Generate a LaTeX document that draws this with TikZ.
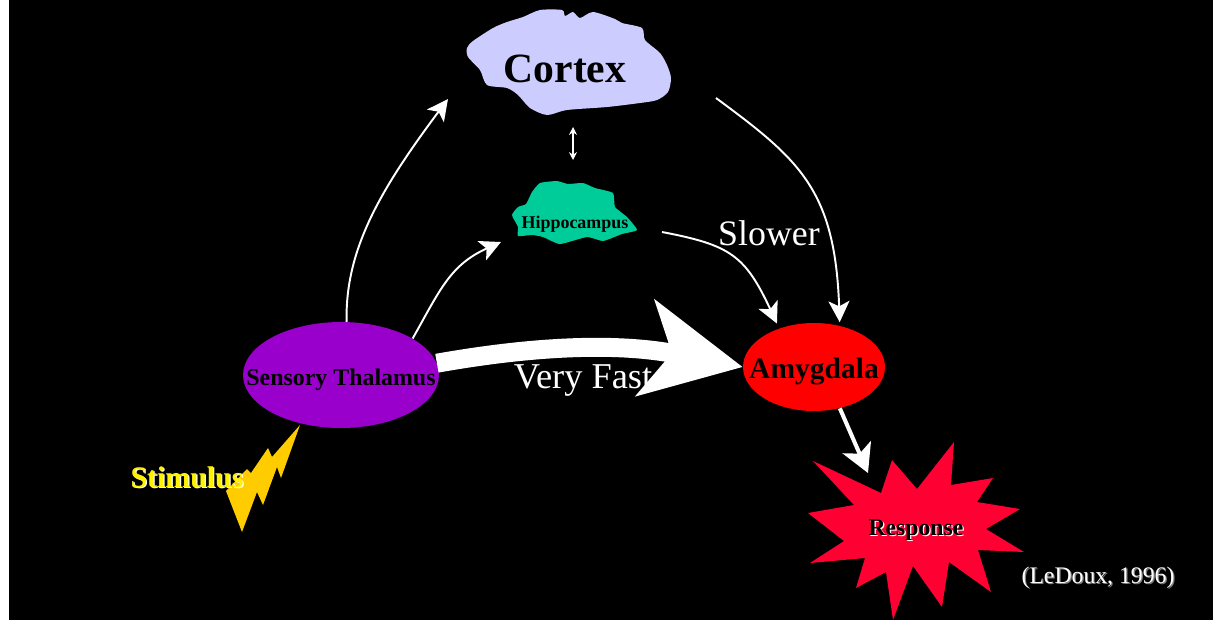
\documentclass[tikz,border=0pt]{standalone}
\usepackage{tikz}
\usepackage{fontspec}
\usetikzlibrary{arrows.meta,shapes.geometric}
\setmainfont{Liberation Serif}

\definecolor{cortexblue}{HTML}{CCCCFF}
\definecolor{hippogreen}{HTML}{00CC99}
\definecolor{thalamuspurple}{HTML}{9900CC}
\definecolor{responsered}{HTML}{FF0033}
\definecolor{boltyellow}{HTML}{FFCC00}

\newcommand{\shadowed}[2]{\rlap{\kern.7pt\raisebox{-.7pt}{\color{#1}#2}}#2}
\newcommand{\organtext}[2]{\raisebox{#1}[0pt][0pt]{\makebox[0pt]{#2}}}

\tikzset{
	thinarrow/.style={draw=white,line width=1.1pt,-{Stealth[white,length=12pt,width=12pt,inset=3pt]}},
	fastarrow/.style={draw=white,line width=10.8pt,-{Stealth[white,length=56pt,width=55pt,inset=15pt]}},
	outarrow/.style={draw=white,line width=2.3pt,-{Stealth[white,length=16pt,width=17.5pt,inset=4pt]}},
	botharrow/.style={draw=white,line width=.9pt,{Stealth[white,length=4.5pt,width=4.5pt]}-{Stealth[white,length=4.5pt,width=4.5pt]}},
	organ/.style={ellipse,inner sep=0pt,font=\bfseries},
	caption/.style={text=white,inner sep=0pt}
}

\begin{document}
\begin{tikzpicture}[x=.02cm,y=-.02cm]
		\useasboundingbox (0,0) rectangle (1213,620);
		\fill[white] (0,0) rectangle (1213,620);
		\fill[black] (8.5,0) rectangle (1213,620);

		\fill[cortexblue] plot[smooth cycle,tension=.45] coordinates {(467,48) (473,41) (493,28) (507,22) (523,17) (540,10) (562,10) (565,16) (573,12) (580,18) (593,12) (615,19) (622,23) (642,28) (645,40) (660,53) (667,65) (671,78) (668,92) (657,100) (640,103) (607,107) (567,110) (547,115) (530,108) (518,95) (507,88) (487,85) (480,70) (468,57)};
		\fill[hippogreen] plot[smooth cycle,tension=.3] coordinates {(512,215) (518,207) (526,204) (532,192) (540,183) (557,181) (568,184) (583,183) (595,188) (613,193) (615,207) (627,217) (637,230) (622,234) (603,241) (587,237) (560,244) (543,237) (532,235) (518,236) (518,227)};
		\fill[responsered] (813,461) -- (881,493) -- (892,460) -- (917,489) -- (954,442) -- (951,485) -- (993,478) -- (977,502) -- (1020,509) -- (986,529) -- (1024,552) -- (978,550) -- (991,592) -- (949,562) -- (942,607) -- (913,566) -- (893,620) -- (886,572) -- (856,588) -- (865,558) -- (810,563) -- (844,541) -- (808,513) -- (854,505) -- cycle;
		\fill[boltyellow] (300,425) -- (281,478) -- (277,467) -- (263,505) -- (257,492) -- (242,532) -- (226,491) -- (247,469) -- (251,473) -- (268,448) -- (272,457) -- cycle;

		\begin{scope}[every node/.style={inner sep=0pt,font=\bfseries}]
			\node (cortex) at (565,69) {\fontsize{23.7}{26}\selectfont Cortex};
			\node (hippocampus) at (575,224) {\fontsize{10.2}{12}\selectfont Hippocampus};
			\node (response) at (916,531) {\fontsize{13.5}{15}\selectfont\shadowed{white}{Response}};
			\node[text=yellow] (stimulus) at (187,478) {\fontsize{17}{20}\selectfont\shadowed{white}{Stimulus}};
		\end{scope}

		\node[organ,fill=thalamuspurple,minimum width=3.92cm,minimum height=2.12cm] (thalamus) at (341,375) {\fontsize{13.6}{15}\selectfont\organtext{-6.1pt}{Sensory Thalamus}};
		\node[organ,fill=red,minimum width=2.84cm,minimum height=1.76cm] (amygdala) at (814,367) {\fontsize{16.8}{19}\selectfont\organtext{-6.3pt}{Amygdala}};

		\node[caption] (slower) at (769,233) {\fontsize{20.4}{23}\selectfont Slower};
		\node[caption] (veryfast) at (583,381) {\fontsize{20.7}{23}\selectfont Very Fast};
		\node[caption] (ledoux) at (1098,578) {\fontsize{13.5}{15}\selectfont\shadowed{gray}{(LeDoux, 1996)}};

		\coordinate (cortex-in) at (448,99);
		\coordinate (cortex-out) at (716,98);
		\coordinate (cortex-low) at (573,127);
		\coordinate (hippo-top) at (573,160);
		\coordinate (hippo-in) at (501,242);
		\coordinate (hippo-out) at (662,232);
		\coordinate (response-in) at (868,473);

		\draw[fastarrow] (thalamus.7.6) .. controls (500,352) and (600,339) .. (amygdala.west);
		\draw[thinarrow] (thalamus.84.5) .. controls (345,250) and (380,190) .. (cortex-in);
		\draw[thinarrow] (thalamus.27) .. controls (440,290) and (450,265) .. (hippo-in);
		\draw[thinarrow,shorten >=3pt] (hippo-out) .. controls (730,245) and (745,255) .. (amygdala.132);
		\draw[thinarrow,shorten >=2pt] (cortex-out) .. controls (800,160) and (835,190) .. (amygdala.58);
		\draw[botharrow] (cortex-low) -- (hippo-top);
		\draw[outarrow] (amygdala.-58) -- (response-in);
\end{tikzpicture}
\end{document}
